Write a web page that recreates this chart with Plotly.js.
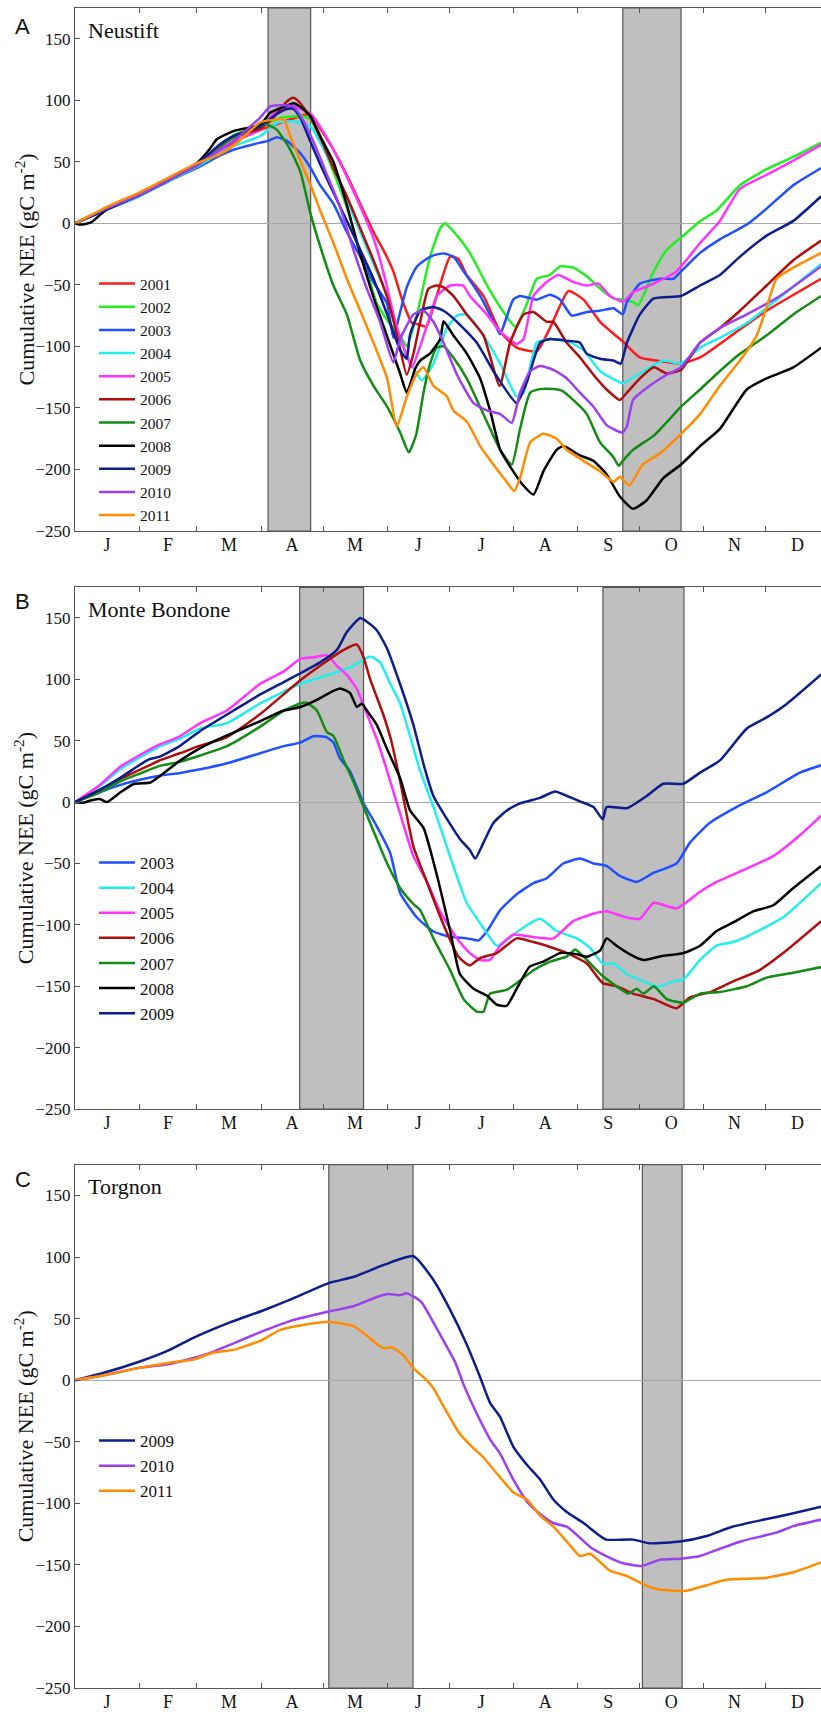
<!DOCTYPE html>
<html><head><meta charset="utf-8">
<script src="https://cdn.plot.ly/plotly-3.0.1.min.js"></script>
<style>html,body{margin:0;padding:0;background:#fff}</style>
</head><body><div id="chart" style="width:821px;height:1712px"></div>
<script>
// ---------- axis categories ----------
const monthLetters = ['J','F','M','A','M','J','J','A','S','O','N','D'];
const monthStarts = [0,31,59,90,120,151,181,212,243,273,304,334,365];
const yTicks = [-250,-200,-150,-100,-50,0,50,100,150];
const yTitle = 'Cumulative NEE (gC m<sup>-2</sup>)';

// ---------- shaded periods (day of year) ----------
const bandsA = [[93.4,114.0],[265.0,293.2]];
const bandsB = [[108.7,139.6],[255.4,294.6]];
const bandsC = [[122.8,163.5],[274.5,293.7]];

// ---------- series colours ----------
const yearColors = {
  2001:'#ff1a1a', 2002:'#22ee22', 2003:'#1f4fff', 2004:'#22eeee',
  2005:'#ff33ff', 2006:'#b00d0d', 2007:'#128c12', 2008:'#000000',
  2009:'#0c1d8c', 2010:'#9b3ff0', 2011:'#ff8c00'
};

// ---------- Panel A: Neustift  [day, cumulative NEE] ----------
const A2001 = [[0,0],[15,12],[31,24],[45,36],[59,48],[70,58],[77,66],[90,76],[100,82],[107,86],[114,89],[118.6,77],[125,60],[133,34],[139.6,10],[144.4,-7],[149.3,-22],[154,-39],[157.3,-57],[160,-70],[163,-81],[166,-82],[170,-84],[175,-59],[181.5,-27],[185.5,-29],[189.5,-42],[197.6,-59],[205.7,-88],[213.7,-101],[223.4,-104],[229.8,-85],[238.7,-55],[246,-62],[254,-80],[265,-96],[273.3,-109],[283,-112],[293.2,-114],[302.4,-109],[318.5,-90],[334.6,-71],[361,-45]];
const A2002 = [[0,0],[15,12],[31,23],[45,35],[59,48],[70,62],[77,72],[90,79],[100,86],[110,87],[114,84.5],[118.6,68],[125,42],[131.5,13],[136.4,-16],[141.2,-39],[146,-65],[152.5,-82],[157.3,-91],[160.5,-100],[165.4,-74],[171.8,-27],[176.7,-4],[179,0],[184.8,-10],[191,-24],[199.2,-50],[205.7,-68],[213,-84],[218,-68],[223.4,-45],[229.8,-42],[234.7,-35],[241,-36],[247.6,-43],[254,-53],[260.5,-61],[265,-62],[270,-64],[272.5,-66.5],[280,-39],[286.3,-21.5],[294.3,-10],[302.4,1.7],[310.4,10.5],[321.7,31],[334.6,44],[347.5,54],[361,65.6]];
const A2003 = [[0,0],[15,11],[31,22],[45,34],[59,45],[70,55],[77,60],[89.6,65.6],[93.3,67],[97.7,70],[102.5,67],[109,57],[114,45],[118.6,31],[125,16],[131.5,-7],[138,-27],[144.4,-48],[150.9,-65],[154,-93],[157.3,-72],[160.5,-52],[165,-36],[170,-29],[173.4,-26],[178.3,-24.4],[183,-27],[188,-39],[196,-59],[204,-85],[205.7,-90],[212,-62],[215.3,-59],[223.4,-62],[229.8,-58],[234.7,-62],[240.3,-75],[247.6,-72],[254,-71],[260.5,-69],[265,-74],[267,-64],[273.3,-49],[283.1,-45],[289.5,-45],[293.2,-39],[302.4,-24],[312,-13],[325,-1],[334.6,12],[347.5,31],[361,45]];
const A2004 = [[0,0],[15,11],[31,22],[45,34],[59,46],[70,57],[77,63],[89.6,71],[97.7,81.6],[105.7,83],[114,78.7],[118.6,65.6],[125,45],[131.5,19],[138,-7],[144.4,-33],[151,-59],[157.3,-95],[162,-112],[167.8,-127.5],[173.4,-114],[179.9,-85],[184.8,-75],[189.5,-74],[197.6,-91],[205.7,-114],[213.7,-140.6],[217,-137.6],[223.4,-97],[229.8,-94],[237.9,-95.5],[246,-103],[254,-120],[262.1,-128],[265,-130],[273.3,-122],[284.6,-111.5],[293.2,-114],[302.4,-101],[312,-93],[325,-81],[339.6,-62],[361,-33]];
const A2005 = [[0,0],[15,12],[31,24],[45,36],[59,48],[70,59],[77,67],[89.6,76],[97.7,92],[105.7,95],[114,89],[118,80],[125,60],[135,25],[145,-15],[150,-45],[155,-80],[160,-105],[163,-117],[167,-100],[172,-74],[175,-59],[181.5,-50.5],[187.8,-50.5],[191,-59],[199.2,-74],[205.7,-88],[213.7,-98],[217,-94],[221.8,-59],[228.2,-47.6],[233.8,-42],[241,-47.6],[247.6,-50.5],[253.2,-49],[258.8,-59],[265,-63.6],[270,-56],[280,-49],[291,-39],[302.4,-16],[312,2],[321.7,28],[334.6,39.5],[347.5,51],[361,64]];
const A2006 = [[0,0],[15,12],[31,23],[45,35],[59,47],[70,62],[77,70],[89.6,77],[96,86],[102.5,99],[105.7,102],[109,97.6],[114,86],[118.6,70],[125,45],[131.5,22],[138,-4],[144.4,-30],[151,-60],[155.7,-90],[160.5,-123],[163.7,-106],[167,-80],[171,-53],[175,-50.5],[178.3,-52],[183,-59],[189.5,-74],[197.6,-91],[205.4,-132],[210.5,-97],[217,-74],[221.8,-72],[228.2,-80],[231.4,-80],[237.9,-97],[244.3,-109],[250.8,-123],[257.2,-135],[263.6,-143.5],[267,-137.6],[273.3,-126],[280,-117],[286.3,-122],[293.2,-119],[302.4,-97],[312,-85],[321.7,-71],[334.6,-50.5],[347.5,-30],[361,-14]];
const A2007 = [[0,0],[15,12],[31,23],[45,35],[59,47],[70,62],[77,70],[89.6,79],[93.3,80],[97.7,76],[104.1,60],[109,42],[114,7.5],[118.6,-18.6],[125,-50.5],[131.5,-74],[138,-111.5],[144.4,-132],[151,-149],[157.3,-170],[161.5,-186],[165,-172],[168.6,-137.6],[171.8,-114],[175,-101],[178.3,-100],[183,-109],[189.5,-126],[194.4,-143.5],[199.2,-161],[205.7,-184],[211.3,-196],[215.3,-167],[220.2,-137.6],[225,-134.7],[231.4,-134.7],[235.5,-136],[241,-143.5],[247.6,-155],[254,-178],[260.5,-190],[263,-197],[265,-193],[270,-184],[280,-172.5],[293.2,-149],[302.4,-135],[312,-120],[321.7,-106],[334.6,-91],[347.5,-74],[361,-59]];
const A2008 = [[0,0],[3,-1],[8,1],[15,11],[31,23],[45,35],[59,49],[65,60],[68.7,68.5],[76.7,75],[89.6,80],[94.5,90],[101,94.7],[105.7,97.6],[109,94.7],[114,87],[118.6,71],[125,50],[131.5,15],[138,-25],[144.4,-60],[151,-92],[157.3,-122],[160.5,-137.6],[164.6,-118],[167,-111.5],[171.8,-105.7],[176.7,-94],[178.3,-79.6],[183,-91],[189.5,-105.7],[196,-126],[200.8,-152],[205.7,-184],[212,-201.5],[216.9,-213],[221.8,-220.4],[226.6,-201.5],[233,-184],[236.2,-181],[244.3,-188.5],[250.8,-193],[257.2,-204],[263.6,-222],[270,-232],[276.6,-225],[284.6,-207],[293.2,-196],[302.4,-181],[312,-167],[325,-135],[334.6,-126],[347.5,-117],[361,-101]];
const A2009 = [[0,0],[15,11],[31,23],[45,35],[59,48],[70,64],[76.7,71],[89.6,79],[97.7,89],[102.5,93],[105.7,93],[109,86],[114,66],[118.6,48],[125,25],[131.5,2],[138,-21.5],[144.4,-45],[151,-74],[157.3,-103],[160.5,-110],[162,-91],[167,-71],[173.4,-68],[178.3,-71],[184.8,-80],[194.4,-97],[202.4,-120],[213.7,-146],[218.6,-129],[225,-97],[229.8,-94],[237.9,-95.5],[244.3,-97],[247.6,-106],[254,-110],[260.5,-111.5],[264,-114],[267,-97],[273.3,-74],[280,-61],[293.2,-59],[302.4,-50.5],[312,-42],[321.7,-27],[334.6,-10],[347.5,2],[361,22]];
const A2010 = [[0,0],[15,12],[31,23],[45,35],[59,47],[70,60],[76.7,67],[89.6,86],[94.5,95],[101,96],[105.7,95],[110.6,83],[115.4,66],[121.9,39.5],[128.3,13],[134.7,-21.5],[141.2,-53],[147.6,-80],[154,-113],[157.3,-94],[159,-88],[163.7,-74],[168.6,-71],[173.4,-80],[178.3,-97],[184.8,-123],[192.8,-146],[199.2,-152],[205.7,-155],[211.3,-162],[215.3,-137.6],[220.2,-120],[225,-116],[231.4,-119],[237.9,-126],[244.3,-137.6],[250.8,-149],[257.2,-164],[263.6,-169.6],[265,-170],[267,-165],[270,-143.5],[278,-132],[286.3,-123],[293.2,-117],[302.4,-97],[312,-85],[325,-74],[341,-59],[361,-35]];
const A2011 = [[0,0],[15,13],[31,25],[45,37],[59,49],[70,56],[76.7,63],[89.6,82],[97.7,84.5],[101,84.5],[104.1,71],[109,51],[114,31],[118.6,10.5],[125,-15.7],[131.5,-45],[138,-71],[144.4,-97],[151,-126],[155.7,-165],[160.5,-141],[165.4,-122],[168.6,-117],[173.4,-132],[179.9,-140.6],[183,-152],[189.5,-161],[196,-181],[202.4,-196],[208.8,-210],[212.5,-217.5],[215.3,-207],[220.2,-178],[226.6,-171],[233,-175],[237.9,-184],[246,-193],[254,-201.5],[260.5,-210],[263.6,-206],[268.2,-213],[274.6,-196],[282.9,-187],[293.2,-171],[302.4,-155],[312,-132],[321.7,-111.5],[329.8,-91],[334.6,-68],[339.4,-45],[347.5,-36],[361,-24]];

// ---------- Panel B: Monte Bondone ----------
const B2003 = [[0,0],[12,8],[22,14],[31,18],[41,21.5],[51,23.8],[60.6,26.7],[73.5,31.6],[89.6,39.8],[101,45.6],[109,48.5],[115.4,53.7],[121.9,52.8],[125,48.5],[128.3,35.4],[133,25.3],[139.6,-1],[146,-19.7],[152.5,-41.5],[157.3,-74],[165.4,-94],[173.4,-105.4],[181.5,-109.7],[189.5,-111],[195.2,-112.6],[199.2,-105.4],[205.7,-88],[213.7,-75],[221.8,-66],[228.2,-62],[236.2,-50],[244.3,-46],[250.8,-50],[257.1,-52],[263.5,-60],[271.7,-65],[280,-57.5],[291,-50],[297.5,-33],[307,-17],[320,-4],[334.6,8],[350.7,24],[361,30]];
const B2004 = [[0,0],[12,13],[22,27],[31,36],[41,45.5],[51,52],[60.6,60],[73.5,64.4],[89.6,80.4],[109,96.4],[125,105],[134.7,111],[142.8,118.7],[147.6,113.8],[152.5,96.4],[157.3,80.4],[162,54.3],[167,25.3],[173.4,-3.8],[181.5,-44.4],[189.5,-82],[197.6,-102.5],[204,-117],[208.8,-112.6],[215.3,-104],[225,-95],[233,-105],[242.7,-111],[249,-118.4],[255.3,-131.5],[260.5,-131.5],[266.9,-140],[275,-146],[282.2,-150.4],[289.5,-146],[294.3,-144.6],[302.4,-128.6],[310.4,-117],[318.4,-114],[326.5,-108.3],[342.6,-93.8],[361,-66]];
const B2005 = [[0,0],[12,14],[22,29],[31,38],[41,47],[50,53],[60.6,64.4],[73.5,74.6],[89.6,96.4],[101,106.5],[109,116.7],[115.4,118],[121.9,119.6],[126.7,111],[131.5,103.6],[136.4,92],[141.2,71.7],[146,51.4],[151,25.3],[157.3,-9.6],[163.7,-44],[170.2,-64.7],[176.6,-89],[184.7,-111],[191,-123],[196,-128.6],[200.8,-128.6],[205.7,-117],[212,-108],[221.8,-110],[231.4,-111],[241,-97],[250.8,-91],[257,-89],[266.9,-94],[273.3,-95],[280,-82],[291,-86.5],[302.4,-73],[310.4,-65],[326.5,-53],[337.8,-44],[350.7,-27],[361,-11]];
const B2006 = [[0,0],[12,10],[22,19],[31,26],[41,34],[51,40],[60.6,46],[73.5,53],[89.6,71.7],[109,99.3],[121.9,115],[130,124],[136.4,128.3],[139.6,118],[142.8,100],[149,72],[153,50],[157.3,17],[163.7,-36],[170.2,-65],[178.3,-100],[185.5,-126],[191,-133],[196,-127],[204,-123],[213.7,-111],[221.8,-114],[229.9,-118],[238,-123],[247.6,-131.5],[255.3,-147.5],[262,-150],[270,-156],[280,-160.5],[291,-168],[297.5,-159],[307,-155],[318.4,-146],[331,-137],[342.6,-123],[361,-97]];
const B2007 = [[0,0],[12,8],[22,17],[31,23],[41,29.5],[51,33],[60.6,38],[73.5,45.6],[89.6,61.5],[101,74.6],[109,80.4],[112,81],[117,74.6],[121.9,57],[125,54],[130,34],[134.7,16.5],[139.6,-4],[146,-30],[151,-50],[157.3,-70],[163.7,-83],[167,-88],[173.4,-111],[181.5,-137],[188,-160.5],[194.4,-170.7],[197.6,-170.7],[200.8,-156],[208.8,-153],[213.7,-147.5],[221.8,-137],[229.9,-130],[238,-125.7],[242,-120],[247.6,-128.6],[255.3,-141.7],[262,-150],[267.7,-156],[271.7,-152],[275,-156],[280,-150],[286.3,-160.5],[294.3,-163.4],[302.4,-156],[312,-154.7],[325,-150],[334.6,-143],[347.5,-139],[361,-134.4]];
const B2008 = [[0,0],[4,-0.5],[8,1.5],[12,2.5],[15.5,0],[22,8],[28.4,14.8],[36.5,16],[41.3,21.5],[51,34],[60.6,44],[73.5,54.3],[89.6,66],[101,74.6],[109,77.5],[117,83.3],[125,90.6],[128.3,92.6],[133,89],[136.4,77.5],[138.8,80.4],[141.2,74.6],[146,63],[151,43],[157.3,19.5],[162.1,-6.7],[168.6,-21],[175,-59],[181.5,-105],[186.2,-140],[192.8,-152],[199.2,-157.6],[204,-165],[208.8,-166],[213.7,-152],[220,-134],[226.6,-130],[234.6,-123],[242.7,-124],[247.6,-126],[254,-121],[257.2,-111],[262,-117],[268.5,-124],[275,-128.6],[282.9,-125.7],[294.3,-123],[302.4,-117],[310.4,-105],[318.4,-98],[328.1,-89],[337.8,-84],[347.5,-70],[361,-52]];
const B2009 = [[0,0],[12,10],[22,20],[31,30],[36,35],[41,37],[50,45],[60.6,58],[76.7,74.6],[89.6,87.7],[101,97.8],[109,105],[118.6,113.8],[126.7,124],[131.5,138.5],[138,150],[141.2,147],[146,140],[151,125],[157.3,96],[163.7,63],[168.6,31],[173.4,5],[181.5,-18],[186.2,-30],[191,-39],[193.6,-46],[197.6,-33],[202.4,-17],[208.8,-7],[215.3,-1],[225,3.5],[232.3,8.7],[238,5],[244.3,0.6],[250.8,-4],[255.3,-14],[257.2,-4],[266.9,-5],[276.6,5],[284.6,15],[294.3,15],[302.4,24],[312,34],[325,60],[334.6,69],[344.3,80],[361,104]];

// ---------- Panel C: Torgnon ----------
const C2009 = [[0,0],[14,6],[31,15],[45,24],[58,35],[75,47],[90,56],[105,66],[123,79],[135,84],[150,94],[163.7,100.7],[173,82.4],[181,58.7],[189.5,29],[196,2.4],[200.8,-18.4],[205.7,-30],[212,-54],[218.6,-68.7],[225,-80.6],[231.4,-96.9],[237.9,-107],[246,-116],[254,-126.5],[257,-129.5],[270,-129.5],[278,-132.5],[292.7,-131],[305.6,-126.5],[318,-119],[334,-113],[346,-108.7],[361,-102.8]];
const C2010 = [[0,0],[14,4],[31,10],[45,13],[55,17],[65,22],[73.5,27.6],[89.6,39],[104,48],[122.7,55.7],[134.7,60],[146,67.6],[151.7,70],[157,69],[160.5,70.5],[163.7,68],[167.8,63],[173.4,46.8],[178.3,32],[184,14.2],[188,-3.6],[194.4,-27.3],[200.8,-48],[205.7,-59.9],[212,-80.6],[218.6,-98.4],[225,-108.7],[231.4,-116],[237.9,-119],[244.3,-128],[249.2,-135.4],[257,-142.8],[265.3,-148.7],[274,-151],[282.9,-145.8],[292.7,-145],[302.4,-142.8],[312,-136.9],[322,-131],[339.6,-123.6],[347.5,-118.5],[361,-113.2]];
const C2011 = [[0,0],[14,4],[31,10],[45,14],[58,17],[67,22.5],[76.7,24.6],[89.6,32],[99.3,40.9],[109,44.4],[122.7,47.4],[134.7,43.9],[141,36.4],[149,26],[153.3,26.7],[159,20],[163.7,9.8],[168.6,2.4],[173.4,-6.5],[178.3,-21.3],[185.5,-42],[192,-54],[197.6,-62.8],[205.7,-79],[212,-91],[218.6,-96.9],[225,-110],[231.4,-119],[237.9,-131],[244.3,-142.8],[249.2,-141],[258.8,-154.7],[266.9,-159],[274,-165],[279.8,-169],[289.4,-171],[295.9,-171],[305.6,-166.5],[315,-162],[334,-160.6],[347.5,-156],[361,-148]];

// ---------- panel definitions ----------
const panels = [
  {letter:'A', site:'Neustift', series:{2001:A2001,2002:A2002,2003:A2003,2004:A2004,2005:A2005,2006:A2006,2007:A2007,2008:A2008,2009:A2009,2010:A2010,2011:A2011}, bands:bandsA, legendFont:15.5, letterShift:18},
  {letter:'B', site:'Monte Bondone', series:{2003:B2003,2004:B2004,2005:B2005,2006:B2006,2007:B2007,2008:B2008,2009:B2009}, bands:bandsB, legendFont:17, letterShift:14},
  {letter:'C', site:'Torgnon', series:{2009:C2009,2010:C2010,2011:C2011}, bands:bandsC, legendFont:17, letterShift:15}
];

// ---------- layout geometry ----------
const W = 821, H = 1712, ML = 75, MT = 8, MB = 24;
const plotH = H - MT - MB;
const panelPix = [[8,531],[587.3,1109],[1164.7,1688]]; // top,bottom px of each plot area
const legendTopPx = [267,845,1423];
const xRange = [0, 360.9];
const serif = 'Liberation Serif, Times New Roman, Times, serif';
const sans = 'Liberation Sans, Arial, Helvetica, sans-serif';

const boundaries = monthStarts.slice(1,-1);
const mids = monthLetters.map((m,i)=> (monthStarts[i]+monthStarts[i+1])/2);

const traces = [];
const layout = {
  width: W, height: H,
  margin: {l: ML, r: 0, t: MT, b: MB, pad: 0},
  paper_bgcolor: '#fff', plot_bgcolor: '#fff',
  font: {family: serif, color: '#111'},
  showlegend: true,
  shapes: [], annotations: []
};

panels.forEach((p, i) => {
  const n = i + 1;
  const xa = n === 1 ? 'x' : 'x' + n;
  const ya = n === 1 ? 'y' : 'y' + n;
  const labA = 'x' + (n + 3);
  const yKey = n === 1 ? 'yaxis' : 'yaxis' + n;
  const xKey = n === 1 ? 'xaxis' : 'xaxis' + n;
  const labKey = 'xaxis' + (n + 3);
  const legKey = n === 1 ? 'legend' : 'legend' + n;
  const [topPx, botPx] = panelPix[i];
  const dom = [(H - MB - botPx) / plotH, (H - MB - topPx) / plotH];

  layout[yKey] = {
    domain: dom, anchor: xa, range: [-250, 175],
    tickvals: yTicks, ticks: 'inside', ticklen: 5, tickcolor: '#555', tickwidth: 1,
    showline: true, linecolor: '#555', linewidth: 1, mirror: false,
    showgrid: false, zeroline: true, zerolinecolor: '#a8a8a8', zerolinewidth: 1,
    tickfont: {family: serif, size: 17, color: '#111'},
    fixedrange: true
  };
  layout[xKey] = {
    anchor: ya, domain: [0, 1], range: xRange,
    tickvals: boundaries, ticks: 'inside', ticklen: 5, tickcolor: '#555', tickwidth: 1,
    showticklabels: false, showline: true, linecolor: '#555', linewidth: 1, mirror: 'ticks',
    showgrid: false, zeroline: false, fixedrange: true
  };
  layout[labKey] = {
    overlaying: xa, anchor: ya, side: 'bottom', range: xRange, domain: [0, 1],
    tickmode: 'array', tickvals: mids, ticktext: monthLetters, ticks: '', showline: false,
    showgrid: false, zeroline: false, fixedrange: true, ticklabelstandoff: 1,
    tickfont: {family: serif, size: 18, color: '#111'}
  };
  layout[legKey] = {
    x: (94 - ML) / (W - ML), xanchor: 'left',
    y: (H - MB - legendTopPx[i]) / plotH, yanchor: 'top',
    bgcolor: 'rgba(0,0,0,0)', borderwidth: 0, itemwidth: 36,
    font: {family: serif, size: p.legendFont, color: '#111'},
    traceorder: 'normal'
  };

  // shaded periods
  p.bands.forEach(b => {
    layout.shapes.push({type: 'rect', xref: xa, yref: ya + ' domain', x0: b[0], x1: b[1], y0: 0, y1: 1,
      fillcolor: '#bfbfbf', line: {color: '#555', width: 1.2}, layer: 'below'});
  });

  // y title, panel letter and site name
  layout.annotations.push({xref: 'paper', yref: ya + ' domain', x: (24 - ML) / (W - ML), y: 0.5,
    xanchor: 'center', yanchor: 'middle', textangle: -90, showarrow: false, text: yTitle,
    font: {family: serif, size: 22, color: '#111'}});
  layout.annotations.push({xref: 'paper', yref: ya + ' domain', x: (23 - ML) / (W - ML), y: 1,
    xanchor: 'center', yanchor: 'middle', yshift: -p.letterShift, showarrow: false, text: p.letter,
    font: {family: sans, size: 22, color: '#111'}});
  layout.annotations.push({xref: 'paper', yref: ya + ' domain', x: (86 - ML) / (W - ML), y: 1,
    xanchor: 'left', yanchor: 'middle', yshift: -22, showarrow: false, text: p.site,
    font: {family: serif, size: 22, color: '#111'}});

  Object.keys(p.series).forEach(yr => {
    const pts = p.series[yr];
    traces.push({
      type: 'scatter', mode: 'lines', name: String(yr),
      x: pts.map(d => d[0]), y: pts.map(d => d[1]),
      xaxis: xa, yaxis: ya, legend: legKey,
      line: {color: yearColors[yr], width: 2.5, shape: 'spline', smoothing: 0.5}, hoverinfo: 'skip'
    });
  });

  // carrier for the month-letter axis (no visible marks)
  traces.push({
    type: 'scatter', mode: 'lines', x: mids, y: mids.map(() => null),
    xaxis: labA, yaxis: ya, showlegend: false, hoverinfo: 'skip', line: {width: 0}
  });
});

Plotly.newPlot('chart', traces, layout, {staticPlot: true, displayModeBar: false});
</script>
</body></html>
